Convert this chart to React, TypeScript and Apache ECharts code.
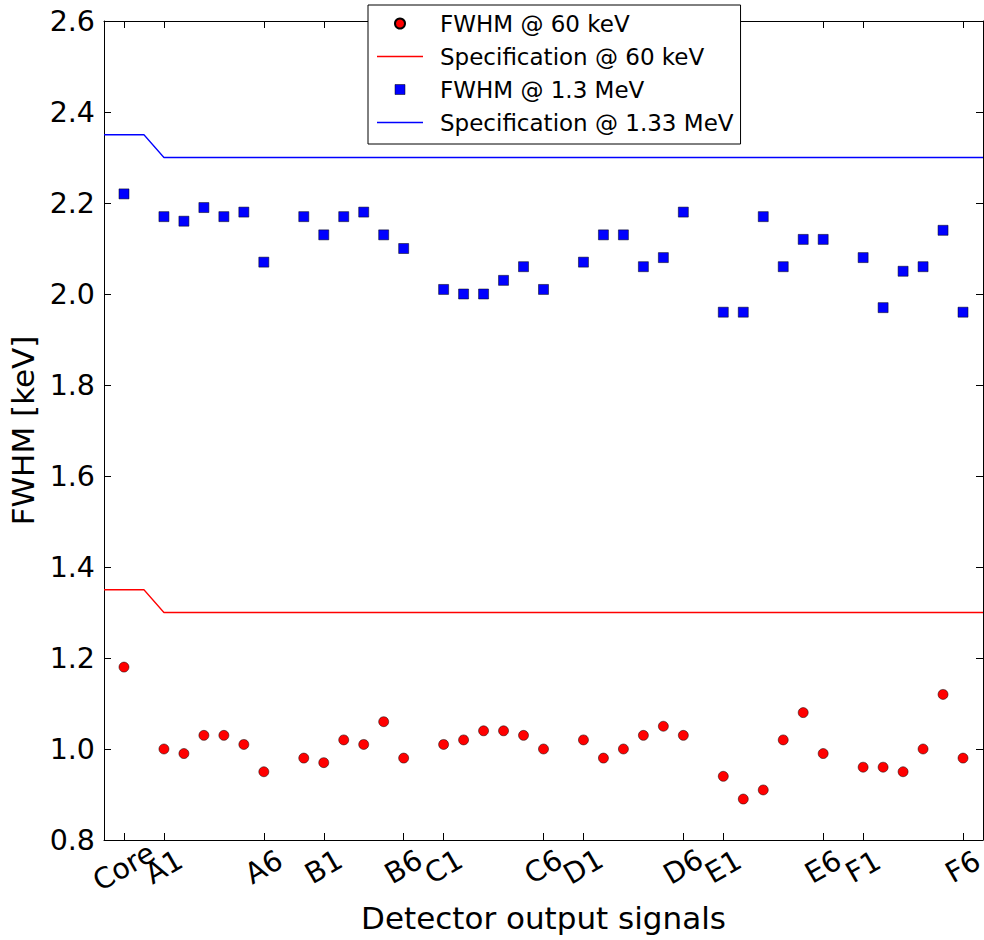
import React, { useEffect, useRef } from 'react';
import * as echarts from 'echarts';

const tickPositions = [0, 2, 7, 10, 14, 16, 21, 23, 28, 30, 35, 37, 42];
const tickLabels = ['Core', 'A1', 'A6', 'B1', 'B6', 'C1', 'C6', 'D1', 'D6', 'E1', 'E6', 'F1', 'F6'];

const channelX = [
  0,
  2, 3, 4, 5, 6, 7,
  9, 10, 11, 12, 13, 14,
  16, 17, 18, 19, 20, 21,
  23, 24, 25, 26, 27, 28,
  30, 31, 32, 33, 34, 35,
  37, 38, 39, 40, 41, 42,
];

const fwhm60 = [
  1.18,
  1.0, 0.99, 1.03, 1.03, 1.01, 0.95,
  0.98, 0.97, 1.02, 1.01, 1.06, 0.98,
  1.01, 1.02, 1.04, 1.04, 1.03, 1.0,
  1.02, 0.98, 1.0, 1.03, 1.05, 1.03,
  0.94, 0.89, 0.91, 1.02, 1.08, 0.99,
  0.96, 0.96, 0.95, 1.0, 1.12, 0.98,
];

const fwhm13 = [
  2.22,
  2.17, 2.16, 2.19, 2.17, 2.18, 2.07,
  2.17, 2.13, 2.17, 2.18, 2.13, 2.1,
  2.01, 2.0, 2.0, 2.03, 2.06, 2.01,
  2.07, 2.13, 2.13, 2.06, 2.08, 2.18,
  1.96, 1.96, 2.17, 2.06, 2.12, 2.12,
  2.08, 1.97, 2.05, 2.06, 2.14, 1.96,
];

const specX = [-1, 1, 2, 43];
const spec60 = [1.35, 1.35, 1.3, 1.3];
const spec133 = [2.35, 2.35, 2.3, 2.3];

const FONT = 'DejaVu Sans';
const TICK_FONT = 28.5;

export default function App() {
  const ref = useRef<HTMLDivElement>(null);
  useEffect(() => {
    if (!ref.current) return;
    const chart = echarts.init(ref.current, null, { renderer: 'svg' });
    const labelFor = (v: number) => {
      const i = tickPositions.indexOf(Math.round(v));
      return i >= 0 ? tickLabels[i] : '';
    };
    const axisLineStyle = { color: '#000', width: 1 };
    const lineIcon = 'path://M0,0h46v1.3h-46z';
    const squareIcon = 'path://M0,0h10v10h-10z';
    const xLabelBase = {
      show: true,
      formatter: labelFor,
      rotate: 30,
      align: 'center',
      verticalAlign: 'middle',
      margin: 27,
      fontSize: TICK_FONT,
      lineHeight: 14,
      color: '#000',
      fontFamily: FONT,
      hideOverlap: false,
    };
    chart.setOption({
      animation: false,
      backgroundColor: '#fff',
      textStyle: { fontFamily: FONT },
      grid: { left: 104, right: 1, top: 21, bottom: 100, containLabel: false, outerBoundsMode: 'none' },
      legend: {
        orient: 'vertical',
        left: 368,
        top: 5,
        itemWidth: 46,
        itemHeight: 10,
        itemGap: 10,
        padding: [7, 7, 10, 9],
        backgroundColor: '#fff',
        borderColor: '#000',
        borderWidth: 1,
        borderRadius: 0,
        symbolKeepAspect: true,
        textStyle: { fontSize: 23, color: '#000', fontFamily: FONT, padding: [0, 0, 0, 12] },
        data: [
          { name: 'FWHM @ 60 keV' },
          { name: 'Specification @ 60 keV', icon: lineIcon, itemStyle: { color: '#ff0000', borderWidth: 0 } },
          { name: 'FWHM @ 1.3 MeV', icon: squareIcon, itemStyle: { color: '#0000ff', borderColor: '#000', borderWidth: 0.5 } },
          { name: 'Specification @ 1.33 MeV', icon: lineIcon, itemStyle: { color: '#0000ff', borderWidth: 0 } },
        ],
      },
      xAxis: [
        {
          type: 'value',
          position: 'bottom',
          min: -1,
          max: 43,
          name: 'Detector output signals',
          nameLocation: 'middle',
          nameGap: 62,
          nameTextStyle: { fontSize: 31, color: '#000', fontFamily: FONT },
          axisLine: { show: true, onZero: false, lineStyle: axisLineStyle },
          axisTick: { show: true, inside: true, length: 7, customValues: tickPositions, lineStyle: axisLineStyle },
          axisLabel: { ...xLabelBase, customValues: tickPositions.slice(0, 1) },
          splitLine: { show: false },
        },
        {
          type: 'value',
          position: 'top',
          min: -1,
          max: 43,
          axisLine: { show: true, onZero: false, lineStyle: axisLineStyle },
          axisTick: { show: true, inside: true, length: 7, customValues: tickPositions, lineStyle: axisLineStyle },
          axisLabel: { show: false },
          splitLine: { show: false },
        },
        {
          type: 'value',
          position: 'bottom',
          min: -1,
          max: 43,
          axisLine: { show: false, onZero: false },
          axisTick: { show: false },
          axisLabel: { ...xLabelBase, customValues: tickPositions.slice(1) },
          splitLine: { show: false },
        },
      ],
      yAxis: [
        {
          type: 'value',
          position: 'left',
          min: 0.8,
          max: 2.6,
          interval: 0.2,
          name: 'FWHM [keV]',
          nameLocation: 'middle',
          nameGap: 66,
          nameRotate: 90,
          nameTextStyle: { fontSize: 31, color: '#000', fontFamily: FONT },
          axisLine: { show: true, onZero: false, lineStyle: axisLineStyle },
          axisTick: { show: true, inside: true, length: 7, lineStyle: axisLineStyle },
          axisLabel: {
            show: true,
            margin: 9,
            fontSize: TICK_FONT,
            color: '#000',
            fontFamily: FONT,
            formatter: (v: number) => v.toFixed(1),
          },
          splitLine: { show: false },
        },
        {
          type: 'value',
          position: 'right',
          min: 0.8,
          max: 2.6,
          interval: 0.2,
          axisLine: { show: true, onZero: false, lineStyle: axisLineStyle },
          axisTick: { show: true, inside: true, length: 7, lineStyle: axisLineStyle },
          axisLabel: { show: false },
          splitLine: { show: false },
        },
      ],
      series: [
        {
          name: 'FWHM @ 60 keV',
          type: 'scatter',
          xAxisIndex: 0,
          yAxisIndex: 0,
          symbol: 'circle',
          symbolSize: 10,
          itemStyle: { color: '#ff0000', borderColor: '#000', borderWidth: 0.5, opacity: 1 },
          data: channelX.map((x, i) => [x, fwhm60[i]]),
          z: 3,
        },
        {
          name: 'Specification @ 60 keV',
          type: 'line',
          xAxisIndex: 0,
          yAxisIndex: 0,
          symbol: 'none',
          showSymbol: false,
          lineStyle: { color: '#ff0000', width: 1.3 },
          itemStyle: { color: '#ff0000' },
          data: specX.map((x, i) => [x, spec60[i]]),
          z: 2,
        },
        {
          name: 'FWHM @ 1.3 MeV',
          type: 'scatter',
          xAxisIndex: 0,
          yAxisIndex: 0,
          symbol: 'rect',
          symbolSize: 10,
          itemStyle: { color: '#0000ff', borderColor: '#000', borderWidth: 0.5, opacity: 1 },
          data: channelX.map((x, i) => [x, fwhm13[i]]),
          z: 3,
        },
        {
          name: 'Specification @ 1.33 MeV',
          type: 'line',
          xAxisIndex: 0,
          yAxisIndex: 0,
          symbol: 'none',
          showSymbol: false,
          lineStyle: { color: '#0000ff', width: 1.3 },
          itemStyle: { color: '#0000ff' },
          data: specX.map((x, i) => [x, spec133[i]]),
          z: 2,
        },
      ],
    });
    return () => chart.dispose();
  }, []);
  return (
    <div
      ref={ref}
      style={{ position: 'absolute', left: 0, top: 0, width: 984, height: 940, background: '#fff' }}
    />
  );
}
